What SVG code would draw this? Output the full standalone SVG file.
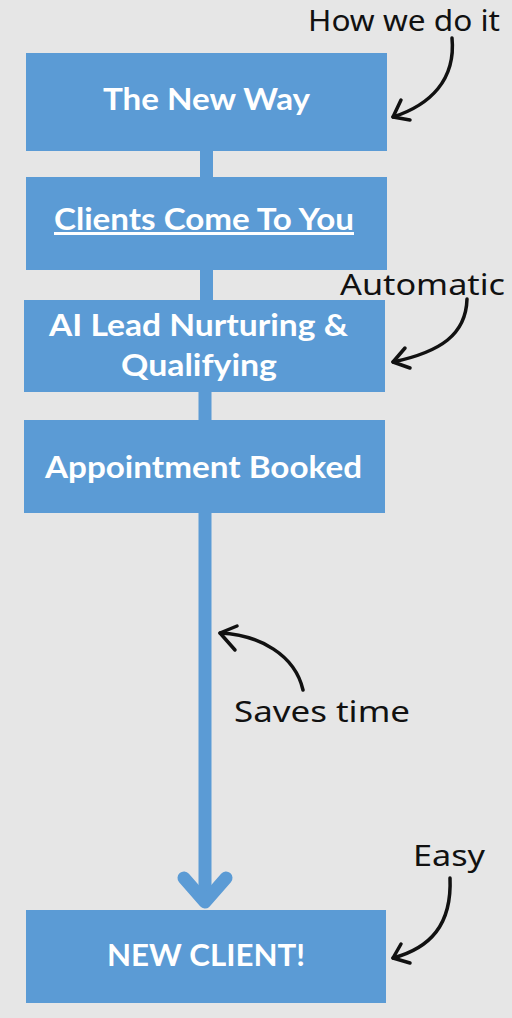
<svg xmlns="http://www.w3.org/2000/svg" width="512" height="1018" viewBox="0 0 512 1018">
<style>
.box{fill:#5B9BD5}
.bt{font-family:Lato,"Open Sans",sans-serif;font-weight:700;font-size:30px;fill:#fff;text-anchor:middle}
.hand{font-family:"Noto Sans","DejaVu Sans",sans-serif;font-size:29px;fill:#111}
.conn{stroke:#5B9BD5;stroke-width:13;fill:none}
.ann{stroke:#111;stroke-width:3.5;fill:none;stroke-linecap:round;stroke-linejoin:round}
</style>
<rect width="512" height="1018" fill="#E6E6E6"/>
<g id="connectors">
<line class="conn" x1="206.5" y1="150" x2="206.5" y2="178"/>
<line class="conn" x1="206.5" y1="269" x2="206.5" y2="301"/>
<line class="conn" x1="205" y1="391" x2="205" y2="421"/>
<line class="conn" x1="205" y1="512" x2="205" y2="900"/>
<polyline class="conn" stroke-linecap="round" stroke-linejoin="round" points="184,878 205,902 226,878"/>
</g>
<g id="node-new-way"><rect class="box" x="26" y="53" width="361" height="98"/><text class="bt" x="206.5" y="110" textLength="207" lengthAdjust="spacingAndGlyphs">The New Way</text></g>
<g id="node-clients"><rect class="box" x="26" y="177" width="361" height="93"/><text class="bt" x="204" y="230" text-decoration="underline" textLength="300" lengthAdjust="spacingAndGlyphs">Clients Come To You</text></g>
<g id="node-ai"><rect class="box" x="24" y="300" width="361" height="92"/><text class="bt" x="198.5" y="336" textLength="299" lengthAdjust="spacingAndGlyphs">AI Lead Nurturing &amp;</text><text class="bt" x="199" y="376" textLength="156" lengthAdjust="spacingAndGlyphs">Qualifying</text></g>
<g id="node-appt"><rect class="box" x="24" y="420" width="361" height="93"/><text class="bt" x="203.5" y="478" textLength="317" lengthAdjust="spacingAndGlyphs">Appointment Booked</text></g>
<g id="node-client"><rect class="box" x="26" y="910" width="360" height="93"/><text class="bt" x="206" y="966" textLength="198" lengthAdjust="spacingAndGlyphs">NEW CLIENT!</text></g>
<g id="annotations">
<text class="hand" x="308" y="31" textLength="192" lengthAdjust="spacingAndGlyphs">How we do it</text>
<path class="ann" d="M452,38 C456,80 430,105 393,117"/>
<path class="ann" d="M401,100 L393,117 L410,120"/>
<text class="hand" x="340" y="295" textLength="165" lengthAdjust="spacingAndGlyphs">Automatic</text>
<path class="ann" d="M467,299 C466,335 440,352 393,362"/>
<path class="ann" d="M405,348 L393,362 L410,368"/>
<text class="hand" x="234" y="722" textLength="176" lengthAdjust="spacingAndGlyphs">Saves time</text>
<path class="ann" d="M303,690 C295,655 260,635 220,633"/>
<path class="ann" d="M237,626 L220,633 L235,650"/>
<text class="hand" x="413" y="866" textLength="72" lengthAdjust="spacingAndGlyphs">Easy</text>
<path class="ann" d="M450,878 C452,925 430,948 393,958"/>
<path class="ann" d="M401,944 L393,958 L410,963"/>
</g>
</svg>
